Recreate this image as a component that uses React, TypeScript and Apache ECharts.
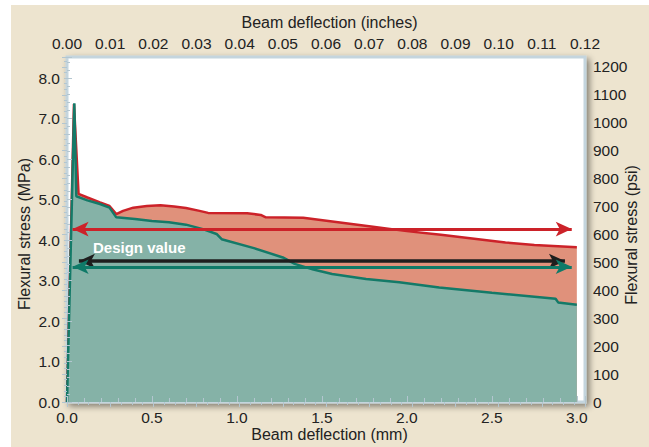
import React, { useEffect, useRef } from "react";
import * as echarts from "echarts";

// Beam deflection (mm) vs flexural stress (MPa)
const redCurve: [number, number][] = [
  [0, 0], [0.041, 7.36], [0.068, 5.14], [0.12, 5.05], [0.194, 4.93], [0.25, 4.84],
  [0.29, 4.64], [0.33, 4.72], [0.39, 4.8], [0.47, 4.84], [0.55, 4.86], [0.63, 4.83],
  [0.7, 4.79], [0.78, 4.72], [0.83, 4.67], [1.06, 4.66], [1.14, 4.62], [1.17, 4.56],
  [1.39, 4.55], [1.8, 4.33], [2.0, 4.22], [2.2, 4.13], [2.58, 3.94], [2.75, 3.88], [3.0, 3.82],
];
const tealCurve: [number, number][] = [
  [0, 0], [0.043, 7.38], [0.055, 5.08], [0.12, 4.98], [0.194, 4.89], [0.25, 4.8],
  [0.29, 4.56], [0.4, 4.52], [0.5, 4.47], [0.6, 4.44], [0.7, 4.38], [0.8, 4.27],
  [0.88, 4.15], [0.91, 4.02], [1.1, 3.8], [1.27, 3.57], [1.34, 3.41], [1.45, 3.27],
  [1.56, 3.16], [1.76, 3.04], [1.955, 2.96], [2.19, 2.83], [2.5, 2.7], [2.875, 2.55],
  [2.89, 2.46], [3.0, 2.4],
];
// horizontal arrows: [y MPa, x start mm, x end mm]
const redArrow = [4.27, 0.033, 2.97];
const blackArrow = [3.48, 0.07, 2.93];
const tealArrow = [3.34, 0.033, 2.97];
const designLabel = "Design value";

const X_MAX_MM = 3.048; // = 0.12 in
const Y_MAX_MPA = 8.52;
const Y_MAX_PSI = Y_MAX_MPA * 145.038;

const FONT = "'Liberation Sans', Arial, Helvetica, sans-serif";
const TXT = "#222222";
const TICK = "#b3c6d0";

export default function App() {
  const ref = useRef<HTMLDivElement>(null);
  useEffect(() => {
    document.body.style.margin = "0";
    const chart = echarts.init(ref.current!, undefined, { renderer: "svg" });
    const tickCfg = (len: number, minorLen: number, split: number) => ({
      axisTick: { show: true, inside: true, length: len, lineStyle: { color: TICK, width: 1 } },
      minorTick: { show: true, splitNumber: split, length: minorLen, lineStyle: { color: TICK, width: 1 } },
    });
    const arrowLine = (a: number[], color: string, width: number) => [
      { coord: [a[1], a[0]], lineStyle: { color, width, type: "solid" }, itemStyle: { color } },
      { coord: [a[2], a[0]] },
    ];
    const isMult = (v: number, step: number) => Math.abs(v / step - Math.round(v / step)) < 1e-6;
    chart.setOption({
      animation: false,
      backgroundColor: "transparent",
      textStyle: { fontFamily: FONT },
      grid: {
        left: 67, right: 64, top: 57, bottom: 45,
        outerBoundsMode: "none", containLabel: false,
        show: true, backgroundColor: "#ffffff", borderColor: "#c4d5de", borderWidth: 3,
        shadowBlur: 6, shadowColor: "rgba(0,0,0,0.45)", shadowOffsetX: 3, shadowOffsetY: 3,
      },
      xAxis: [
        {
          type: "value", position: "bottom", min: 0, max: X_MAX_MM, interval: 0.5, z: 5,
          name: "Beam deflection (mm)", nameLocation: "middle", nameGap: 24, nameMoveOverlap: false,
          nameTextStyle: { fontSize: 16, color: TXT, fontFamily: FONT, padding: [0, 0, 0, 7] },
          axisLine: { show: false }, splitLine: { show: false },
          axisLabel: {
            fontSize: 15.5, color: TXT, margin: 7, fontFamily: FONT,
            formatter: (v: number) => (isMult(v, 0.5) ? v.toFixed(1) : ""),
          },
          ...tickCfg(6, 4, 5),
        },
        {
          type: "value", position: "top", min: 0, max: 0.12, interval: 0.01, z: 5,
          name: "Beam deflection (inches)", nameLocation: "middle", nameGap: 27, nameMoveOverlap: false,
          nameTextStyle: { fontSize: 16, color: TXT, fontFamily: FONT, padding: [0, 0, 0, 7] },
          axisLine: { show: false }, splitLine: { show: false },
          axisLabel: {
            fontSize: 15.5, color: TXT, margin: 6, fontFamily: FONT,
            formatter: (v: number) => v.toFixed(2),
          },
          ...tickCfg(5, 3, 4),
        },
      ],
      yAxis: [
        {
          type: "value", position: "left", min: 0, max: Y_MAX_MPA, interval: 1, z: 5,
          name: "Flexural stress (MPa)", nameLocation: "middle", nameGap: 35, nameMoveOverlap: false,
          nameTextStyle: { fontSize: 16, color: TXT, fontFamily: FONT, padding: [0, 9, 0, 0] },
          axisLine: { show: false }, splitLine: { show: false },
          axisLabel: {
            fontSize: 15.5, color: TXT, margin: 7, fontFamily: FONT,
            formatter: (v: number) => (isMult(v, 1) ? v.toFixed(1) : ""),
          },
          ...tickCfg(5, 3, 5),
        },
        {
          type: "value", position: "right", min: 0, max: Y_MAX_PSI, interval: 100, z: 5,
          name: "Flexural stress (psi)", nameLocation: "middle", nameGap: 38, nameMoveOverlap: false,
          nameTextStyle: { fontSize: 16, color: TXT, fontFamily: FONT, padding: [0, 11, 0, 0] },
          axisLine: { show: false }, splitLine: { show: false },
          axisLabel: {
            fontSize: 15.5, color: TXT, margin: 8, fontFamily: FONT,
            formatter: (v: number) => (isMult(v, 100) ? String(Math.round(v)) : ""),
          },
          ...tickCfg(5, 3, 5),
        },
      ],
      series: [
        {
          type: "line", xAxisIndex: 0, yAxisIndex: 0, data: redCurve, symbol: "none", z: 2,
          lineStyle: { color: "#cc2229", width: 2.5 },
          areaStyle: { color: "#e0917b", opacity: 1 },
          silent: true,
        },
        {
          type: "line", xAxisIndex: 0, yAxisIndex: 0, data: tealCurve, symbol: "none", z: 3,
          lineStyle: { color: "#147a68", width: 2.5 },
          areaStyle: { color: "#85b2a7", opacity: 1 },
          silent: true,
          markLine: {
            silent: true, symbol: ["arrow", "arrow"], symbolSize: [11, 16],
            label: { show: false }, emphasis: { disabled: true },
            data: [
              arrowLine(redArrow, "#cc2229", 3),
              arrowLine(blackArrow, "#1e1e1e", 3.5),
              arrowLine(tealArrow, "#0f7a68", 3),
            ],
          },
        },
      ],
      graphic: [
        {
          type: "text", left: 93, top: 240, z: 100,
          style: { text: designLabel, fill: "#ffffff", font: `bold 15px ${FONT}` },
        },
      ],
    });
    return () => chart.dispose();
  }, []);
  return (
    <div style={{ position: "absolute", left: 0, top: 0, width: 649, height: 447, background: "#ffffff" }}>
      <div style={{ position: "absolute", left: 11, top: 5, right: 0, bottom: 0, background: "#ede4cf" }} />
      <div ref={ref} style={{ position: "absolute", left: 0, top: 0, width: 649, height: 447 }} />
    </div>
  );
}
